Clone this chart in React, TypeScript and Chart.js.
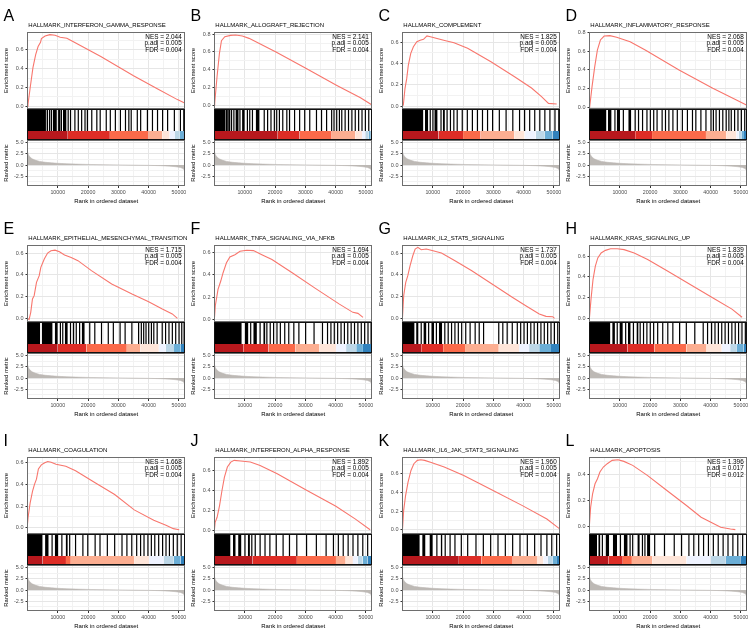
import React, { useEffect, useRef } from "react";
import { Chart, registerables } from "chart.js";
Chart.register(...registerables);

const FONT = '"Liberation Sans", Arial, Helvetica, sans-serif';
Chart.defaults.font.family = FONT;

// ---------- text ----------
const panelLetters = ["A", "B", "C", "D", "E", "F", "G", "H", "I", "J", "K", "L"];
const panelTitles = [
  "HALLMARK_INTERFERON_GAMMA_RESPONSE",
  "HALLMARK_ALLOGRAFT_REJECTION",
  "HALLMARK_COMPLEMENT",
  "HALLMARK_INFLAMMATORY_RESPONSE",
  "HALLMARK_EPITHELIAL_MESENCHYMAL_TRANSITION",
  "HALLMARK_TNFA_SIGNALING_VIA_NFKB",
  "HALLMARK_IL2_STAT5_SIGNALING",
  "HALLMARK_KRAS_SIGNALING_UP",
  "HALLMARK_COAGULATION",
  "HALLMARK_INTERFERON_ALPHA_RESPONSE",
  "HALLMARK_IL6_JAK_STAT3_SIGNALING",
  "HALLMARK_APOPTOSIS",
];
const nesValues = ["2.044", "2.141", "1.825", "2.068", "1.715", "1.694", "1.737", "1.839", "1.668", "1.892", "1.960", "1.396"];
const padjValues = ["0.005", "0.005", "0.005", "0.005", "0.005", "0.005", "0.005", "0.005", "0.005", "0.005", "0.005", "0.017"];
const fdrValues = ["0.004", "0.004", "0.004", "0.004", "0.004", "0.004", "0.004", "0.004", "0.004", "0.004", "0.004", "0.012"];

// ---------- axes ----------
const X_MIN = 1;
const X_MAX = 52000;
const xTickValues = [5000, 10000, 15000, 20000, 25000, 30000, 35000, 40000, 45000, 50000];
const xLabelStep = 10000;
const esStep = 0.1;
const esLabelStep = 0.2;
const esAxisRange = [
  [-0.03, 0.79], [-0.045, 0.826], [-0.028, 0.697], [-0.018, 0.803],
  [-0.034, 0.674], [-0.021, 0.665], [-0.034, 0.674], [-0.036, 0.709],
  [-0.055, 0.647], [-0.04, 0.735], [-0.045, 0.78], [-0.06, 0.538],
];
const rankAxisRange = [-4.7, 5.6];
const rankStep = 1.25;
const rankLabelStep = 2.5;
const BAR_TOP = 0.29;

// ---------- running enrichment score curves [rank, ES] ----------
const esA = [[1,0.0],[160,0.02],[940,0.21],[1800,0.41],[2700,0.55],[3500,0.635],[4300,0.68],[4600,0.72],[5800,0.748],[7400,0.762],[9100,0.755],[10800,0.734],[13000,0.724],[15000,0.688],[24200,0.53],[35000,0.325],[43000,0.184],[49500,0.07],[51700,0.036]];
const esB = [[1,0.0],[64,0.02],[840,0.32],[1630,0.585],[2300,0.727],[3400,0.773],[5300,0.788],[7000,0.792],[9200,0.78],[11400,0.754],[20300,0.6],[30300,0.412],[40400,0.222],[48200,0.082],[52000,0.0]];
const esC = [[1,0.0],[270,0.01],[830,0.167],[1400,0.26],[1930,0.386],[2730,0.496],[3600,0.558],[4740,0.605],[5840,0.62],[6940,0.628],[7500,0.645],[8080,0.66],[9200,0.652],[13600,0.62],[17000,0.596],[21500,0.543],[29200,0.417],[37000,0.276],[42600,0.17],[45900,0.088],[48200,0.025],[50900,0.019]];
const esD = [[1,0.0],[64,0.006],[840,0.22],[1730,0.433],[2600,0.61],[3600,0.718],[4840,0.76],[6740,0.764],[8950,0.747],[13400,0.7],[18400,0.611],[29560,0.398],[40700,0.203],[48500,0.078],[51800,0.025]];
const esE = [[1,0.0],[530,-0.012],[1070,0.055],[1640,0.178],[2200,0.208],[2970,0.33],[3870,0.392],[4400,0.468],[5540,0.545],[6640,0.6],[7750,0.621],[9080,0.627],[10550,0.612],[12220,0.582],[14430,0.56],[16660,0.53],[21100,0.438],[27800,0.315],[34500,0.223],[40000,0.153],[44500,0.086],[47800,0.04],[49500,0.0]];
const esF = [[1,0.02],[270,0.124],[1160,0.27],[2070,0.344],[2840,0.418],[3950,0.506],[5080,0.559],[6750,0.579],[8420,0.609],[10620,0.618],[12860,0.615],[15630,0.579],[18970,0.535],[25650,0.418],[33430,0.276],[41240,0.138],[45690,0.065],[47360,0.056],[49030,0.02]];
const esG = [[1,0.01],[400,0.21],[1070,0.33],[1730,0.39],[2510,0.484],[3400,0.575],[4180,0.637],[5070,0.652],[6180,0.63],[7850,0.637],[10080,0.621],[12860,0.6],[17330,0.53],[22880,0.438],[29560,0.315],[36240,0.193],[40700,0.116],[45150,0.04],[47390,0.018],[49600,0.015],[50170,0.0]];
const esH = [[1,0.01],[500,0.185],[1170,0.377],[1930,0.504],[2740,0.584],[3840,0.632],[5270,0.657],[6940,0.673],[9180,0.673],[11420,0.664],[14760,0.632],[19200,0.568],[25880,0.456],[33670,0.319],[41480,0.185],[47030,0.089],[50370,0.01]];
const esI = [[1,0.04],[215,0.1],[860,0.227],[1670,0.336],[2310,0.398],[2960,0.445],[3600,0.538],[4570,0.575],[5700,0.594],[6670,0.606],[7800,0.6],[9410,0.581],[12640,0.563],[15870,0.522],[22330,0.413],[28780,0.305],[35240,0.165],[41690,0.071],[45730,0.025],[48150,-0.006],[50080,-0.016]];
const esJ = [[1,0.01],[215,0.078],[860,0.128],[1670,0.246],[2470,0.398],[3280,0.533],[4250,0.634],[5380,0.684],[6510,0.701],[8610,0.694],[11830,0.684],[15060,0.65],[20710,0.566],[30400,0.4],[40080,0.24],[46540,0.11],[51380,0.003]];
const esK = [[1,0.007],[375,0.205],[1020,0.367],[1830,0.51],[2800,0.636],[3760,0.708],[4900,0.744],[6030,0.751],[7320,0.744],[9740,0.719],[13770,0.672],[20230,0.582],[29910,0.42],[39600,0.259],[47660,0.115],[52000,0.007]];
const esL = [[1,0.018],[375,0.148],[1020,0.252],[1830,0.33],[2640,0.369],[3440,0.421],[4570,0.46],[5860,0.486],[7480,0.512],[9410,0.517],[11350,0.504],[14260,0.473],[19100,0.395],[25550,0.278],[32010,0.161],[36850,0.07],[40080,0.031],[43310,-0.008],[46540,-0.021],[48150,-0.026]];
const esCurves = [esA, esB, esC, esD, esE, esF, esG, esH, esI, esJ, esK, esL];

// ---------- gene-set hits (dense runs as [from, to], single hits as ranks) ----------
const blocksA = [[1, 5800], [8300, 9700], [11700, 12900]];
const hitsA = [6000,6600,7300,7900,10300,10650,11200,13430,14210,15650,16770,17880,18990,19770,21220,22890,24000,26000,27340,29010,30680,32350,33460,34240,36250,37360,39590,41260,42930,44600,46260,48490,50490,51600];
const blocksB = [[1, 3600], [4500, 5300], [6900, 8000], [9100, 10000], [13600, 14900]];
const hitsB = [3850,4200,5630,6400,8400,10860,11640,12530,16420,17540,18650,19760,20540,21430,22540,23880,24770,26440,28110,29780,31450,33670,35340,37010,38680,39460,40350,41240,42020,43130,44250,45360,46470,47590,48700,49810,50930];
const blocksC = [[1, 6900], [7400, 8500], [10500, 11600], [13300, 14000]];
const hitsC = [9160,10050,12720,14720,15830,16950,18060,19730,21400,23070,24740,26410,28080,29750,31970,34200,36420,38650,40320,41990,43660,45330,47000,48670,50340,51600];
const blocksD = [[1, 5600], [6100, 7300], [9000, 10100], [12800, 13800]];
const hitsD = [8400,11180,15080,16190,17520,18970,20090,21200,22310,23980,25090,26210,27540,28990,30660,32330,34000,35110,36780,38450,40120,40900,41790,42900,44010,45130,46020,46800,47910,49020,50140,51250];
const blocksE = [[1, 4200], [4700, 8300], [9000, 10000], [12300, 13300], [14900, 15500], [17900, 18900]];
const hitsE = [10860,11640,14200,16100,17210,20550,22220,24440,26670,28340,30570,32230,34460,36690,37580,38360,39130,40020,40910,41700,42810,44480,45590,46710,47820,48930,50040,50930,51710];
const blocksF = [[1, 9000], [10000, 11200], [12800, 14000], [16100, 16800]];
const hitsF = [11950,15060,17290,18400,19520,20630,21740,23190,24520,26190,27860,30090,32870,35650,37320,38440,39550,40660,41780,42890,44000,45120,46230,47340,48460,49570,50680,51700];
const blocksG = [[1, 4000], [4500, 5300], [6900, 7900], [9500, 10400], [12000, 13100]];
const hitsG = [6180,8630,11190,13970,15090,16200,17310,18430,19540,20880,22320,23990,25330,26770,31780,33120,34560,36240,37900,39020,40130,41240,42360,43470,44580,45700,46810,47920,49030,50150,51260];
const blocksH = [[1, 6900], [7500, 8400], [9900, 11000], [12700, 13600], [15500, 16200]];
const hitsH = [9160,11940,14500,16730,17840,18950,20060,21180,22510,24180,25850,27520,29750,31970,34760,37540,38980,40320,41430,42550,43660,44770,45880,47000,48110,49220,50340,51450];
const blocksI = [[1, 5000], [5800, 7000], [9000, 10200], [12600, 13300]];
const hitsI = [8120,11350,13930,15870,18290,19900,22330,23940,26360,28780,31200,32820,34430,36050,37340,38470,39760,40890,42020,43310,44600,45730,46860,48150,49440,50730];
const blocksJ = [[1, 5300], [6100, 7000], [7800, 8900], [11000, 11700]];
const hitsJ = [10060,12320,13450,15060,16680,18290,20390,22650,24750,27170,30400,33630,36850,39270,40890,42500,44120,45730,47340,48960,50570];
const blocksK = [[1, 5700], [6500, 7600], [8900, 10000], [12600, 13200]];
const hitsK = [11350,14100,15710,17320,19420,21520,24260,26690,29110,31530,33950,36370,38790,41210,43630,45730,47670,49280,50890];
const blocksL = [[1, 2500], [2900, 3600], [5300, 6500], [7700, 9100], [11300, 12600], [15800, 16600], [19000, 20000]];
const hitsL = [4250,10220,13400,14260,17480,18300,21520,24750,27980,30400,32820,34430,36050,37660,39270,40890,42500,44120,45730,47340,48960,50570,51860];
const hitBlocks = [blocksA, blocksB, blocksC, blocksD, blocksE, blocksF, blocksG, blocksH, blocksI, blocksJ, blocksK, blocksL];
const hitRanks = [hitsA, hitsB, hitsC, hitsD, hitsE, hitsF, hitsG, hitsH, hitsI, hitsJ, hitsK, hitsL];

// ---------- colour bar: rank breakpoints between colour bins ----------
const barColors = ["#B8181D", "#DE2D26", "#FB6A4A", "#FCAE91", "#FEE5D9", "#EFF3FF", "#BDD7E7", "#6BAED6", "#3182BD"];
const colorBreaks = [
  [1, 13300, 27200, 40000, 44500, 46900, 48700, 50300, 51400, 52000],
  [1, 20880, 28120, 38700, 46490, 48720, 49830, 50940, 51600, 52000],
  [1, 11900, 20000, 25800, 36900, 40300, 44000, 47000, 49500, 52000],
  [1, 15080, 20650, 38450, 45130, 48470, 49300, 50140, 51000, 52000],
  [1, 9970, 19430, 32790, 37240, 43360, 45590, 48370, 50600, 52000],
  [1, 9500, 17840, 26750, 34540, 40110, 43450, 46790, 49010, 52000],
  [1, 6180, 13420, 20650, 31780, 38460, 41800, 45140, 49030, 52000],
  [1, 12500, 21400, 31970, 38650, 43660, 46440, 48670, 50900, 52000],
  [1, 5000, 12700, 14300, 35200, 40100, 45000, 48200, 50500, 52000],
  [1, 12600, 27200, 40100, 43300, 45700, 47300, 48900, 50500, 52000],
  [1, 18600, 26000, 36400, 44400, 46500, 48000, 49500, 51000, 52000],
  [1, 6200, 11000, 14000, 20700, 32000, 40000, 45000, 49800, 52000],
];

// ---------- ranked list metric (shared) ----------
const metricRanks = [1, 300, 800, 1500, 2500, 4000, 6000, 8000, 10000, 13000, 16000, 20000, 25000, 30000, 35000, 40000, 44000, 47000, 49000, 50500, 51300, 51800, 52000];
const metricValues = [3.0, 2.3, 1.8, 1.4, 1.1, 0.8, 0.6, 0.48, 0.38, 0.28, 0.2, 0.13, 0.07, 0.02, -0.03, -0.08, -0.15, -0.25, -0.38, -0.55, -0.8, -1.1, -1.4];

// ---------- helpers ----------
const isMultiple = (v: number, step: number) => Math.abs(v / step - Math.round(v / step)) < 1e-6;
function stepTicks(min: number, max: number, step: number) {
  const out: { value: number }[] = [];
  for (let k = Math.ceil(min / step - 1e-9); k * step <= max + 1e-9; k++) out.push({ value: +(k * step).toFixed(6) });
  return out;
}
const GRID_MAJOR = "#E6E6E6";
const GRID_MINOR = "#F2F2F2";
const TICK_COLOR = "#4D4D4D";

function frame(ctx: CanvasRenderingContext2D, x0: number, y0: number, x1: number, y1: number, color: string) {
  const l = Math.floor(x0) + 0.5, r = Math.ceil(x1) - 0.5, t = Math.floor(y0) + 0.5, b = Math.ceil(y1) - 0.5;
  ctx.strokeStyle = color;
  ctx.lineWidth = 1;
  ctx.strokeRect(l, t, r - l, b - t);
}

const decorPlugin = {
  id: "gseaDecor",
  afterDatasetsDraw(chart: any) {
    const { ctx, chartArea } = chart;
    const sE = chart.scales.yES, sH = chart.scales.yHits, sR = chart.scales.yRank;
    ctx.save();
    frame(ctx, chartArea.left, sE.top, chartArea.right, sE.bottom, "#6E6E6E");
    frame(ctx, chartArea.left, sR.top, chartArea.right, sR.bottom, "#6E6E6E");
    frame(ctx, chartArea.left, sH.top, chartArea.right, sH.bottom, "#111111");
    ctx.restore();
  },
  afterDraw(chart: any, _args: any, opts: any) {
    const i = opts.index;
    const { ctx, chartArea } = chart;
    const sE = chart.scales.yES;
    ctx.save();
    ctx.fillStyle = "#000";
    ctx.textBaseline = "alphabetic";
    ctx.textAlign = "left";
    ctx.font = `16px ${FONT}`;
    ctx.fillText(panelLetters[i], 3.5, 20.5);
    ctx.font = `6px ${FONT}`;
    ctx.fillText(panelTitles[i], chartArea.left + 0.8, 27.3);
    ctx.textAlign = "right";
    ctx.font = `6.4px ${FONT}`;
    const rx = chartArea.right - 3.3;
    ctx.fillText(`NES = ${nesValues[i]}`, rx, sE.top + 7);
    ctx.fillText(`p.adj = ${padjValues[i]}`, rx, sE.top + 13.4);
    ctx.fillText(`FDR = ${fdrValues[i]}`, rx, sE.top + 19.8);
    ctx.restore();
  },
};

const CANVAS_W = 193;
const CANVAS_H = 213;
const RIGHT_PAD = 8;
const colLefts = [0, 187, 375, 562];
const rowTops = [0, 213, 425];

function GseaPanel({ idx }: { idx: number }) {
  const ref = useRef<HTMLCanvasElement>(null);
  useEffect(() => {
    const canvas = ref.current;
    if (!canvas) return;
    const [esMin, esMax] = esAxisRange[idx];
    const datasets: any[] = [];

    datasets.push({
      label: "ES",
      data: esCurves[idx].map(([x, y]) => ({ x, y })),
      yAxisID: "yES",
      borderColor: "#F8766D",
      borderWidth: 1.1,
      pointRadius: 0,
      fill: false,
    });

    const hitData: any[] = [];
    for (const h of hitRanks[idx]) {
      hitData.push({ x: h, y: BAR_TOP }, { x: h, y: 1 }, { x: h, y: null });
    }
    datasets.push({
      label: "hits",
      data: hitData,
      yAxisID: "yHits",
      borderColor: "#000",
      borderWidth: 1.2,
      pointRadius: 0,
      spanGaps: false,
      fill: false,
    });
    for (const [a, b] of hitBlocks[idx]) {
      datasets.push({
        label: "hitblock",
        data: [{ x: a, y: 1 }, { x: b, y: 1 }],
        yAxisID: "yHits",
        borderWidth: 0,
        pointRadius: 0,
        backgroundColor: "#000",
        fill: { value: BAR_TOP },
      });
    }

    const br = colorBreaks[idx];
    for (let c = 0; c < barColors.length; c++) {
      datasets.push({
        label: "bar" + c,
        data: [{ x: br[c], y: BAR_TOP }, { x: br[c + 1], y: BAR_TOP }],
        yAxisID: "yHits",
        borderWidth: 0,
        pointRadius: 0,
        backgroundColor: barColors[c],
        fill: { value: 0 },
      });
    }

    datasets.push({
      label: "metric",
      data: metricRanks.map((x, i) => ({ x, y: metricValues[i] })),
      yAxisID: "yRank",
      borderColor: "#BDB9B5",
      backgroundColor: "#BDB9B5",
      borderWidth: 0.6,
      pointRadius: 0,
      fill: "origin",
    });

    const gridColor = (step: number) => (ctx: any) =>
      ctx.tick && isMultiple(ctx.tick.value, step) ? GRID_MAJOR : GRID_MINOR;
    const tickColor = (step: number) => (ctx: any) =>
      ctx.tick && isMultiple(ctx.tick.value, step) ? "#333" : "rgba(0,0,0,0)";

    const chart = new Chart(canvas, {
      type: "line",
      data: { datasets },
      plugins: [decorPlugin],
      options: {
        animation: false,
        responsive: false,
        devicePixelRatio: 1,
        events: [],
        layout: { padding: { left: 0, top: 32, right: RIGHT_PAD, bottom: 0 } },
        plugins: {
          legend: { display: false },
          tooltip: { enabled: false },
          gseaDecor: { index: idx },
        } as any,
        scales: {
          x: {
            type: "linear",
            position: "bottom",
            min: X_MIN,
            max: X_MAX,
            afterBuildTicks: (s: any) => { s.ticks = xTickValues.map((v) => ({ value: v })); },
            afterFit: (s: any) => { s.height = CANVAS_H - 186; },
            ticks: {
              autoSkip: false,
              maxRotation: 0,
              minRotation: 0,
              padding: 1,
              color: TICK_COLOR,
              font: { size: 5.3 },
              callback: (v: any) => (isMultiple(v, xLabelStep) ? String(v) : ""),
            },
            grid: { color: gridColor(xLabelStep), tickLength: 2, tickColor: tickColor(xLabelStep), lineWidth: 1 },
            border: { display: false },
            title: { display: true, text: "Rank in ordered dataset", color: "#000", font: { size: 6 }, padding: { top: 0, bottom: 8 } },
          },
          yRank: {
            type: "linear",
            position: "left",
            stack: "gsea",
            stackWeight: 46,
            min: rankAxisRange[0],
            max: rankAxisRange[1],
            afterBuildTicks: (s: any) => { s.ticks = stepTicks(rankAxisRange[0], rankAxisRange[1], rankStep); },
            afterFit: (s: any) => { s.width = 27.5; },
            ticks: {
              autoSkip: false,
              padding: 2,
              color: TICK_COLOR,
              font: { size: 5.5 },
              callback: (v: any) => (isMultiple(v, rankLabelStep) ? Number(v).toFixed(1) : ""),
            },
            grid: { color: gridColor(rankLabelStep), tickLength: 2, tickColor: tickColor(rankLabelStep), lineWidth: 1 },
            border: { display: false },
            title: { display: true, text: "Ranked metric", color: "#000", font: { size: 5.8 }, padding: { top: 3.4, bottom: 0 } },
          },
          yHits: {
            type: "linear",
            position: "left",
            stack: "gsea",
            stackWeight: 31,
            min: 0,
            max: 1,
            afterFit: (s: any) => { s.width = 27.5; },
            ticks: { display: false },
            grid: { display: false },
            border: { display: false },
          },
          yES: {
            type: "linear",
            position: "left",
            stack: "gsea",
            stackWeight: 77,
            min: esMin,
            max: esMax,
            afterBuildTicks: (s: any) => { s.ticks = stepTicks(esMin, esMax, esStep); },
            afterFit: (s: any) => { s.width = 27.5; },
            ticks: {
              autoSkip: false,
              padding: 2,
              color: TICK_COLOR,
              font: { size: 5.5 },
              callback: (v: any) => (isMultiple(v, esLabelStep) ? (Math.abs(Number(v)) < 1e-9 ? "0.0" : Number(v).toFixed(1)) : ""),
            },
            grid: { color: gridColor(esLabelStep), tickLength: 2, tickColor: tickColor(esLabelStep), lineWidth: 1 },
            border: { display: false },
            title: { display: true, text: "Enrichment score", color: "#000", font: { size: 5.8 }, padding: { top: 3.4, bottom: 0 } },
          },
        } as any,
      } as any,
    });
    return () => chart.destroy();
  }, [idx]);

  const col = idx % 4;
  const row = Math.floor(idx / 4);
  return (
    <canvas
      ref={ref}
      width={CANVAS_W}
      height={CANVAS_H}
      style={{ position: "absolute", left: colLefts[col], top: rowTops[row], width: CANVAS_W, height: CANVAS_H }}
    />
  );
}

export default function App() {
  return (
    <div style={{ position: "absolute", left: 0, top: 0, width: 756, height: 638, background: "#fff", overflow: "hidden" }}>
      {panelLetters.map((_, i) => (
        <GseaPanel key={i} idx={i} />
      ))}
    </div>
  );
}
